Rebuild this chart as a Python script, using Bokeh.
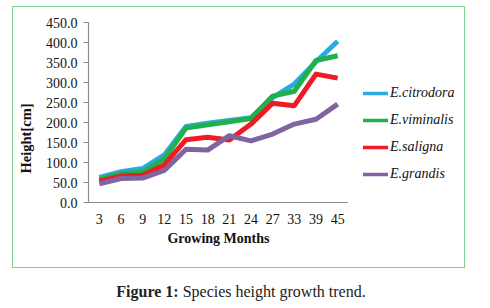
import math
import numpy as np
from bokeh.plotting import figure
from bokeh.models import (FactorRange, Range1d, SingleIntervalTicker, PrintfTickFormatter,
                          Label, Legend, LegendItem, ColumnDataSource, Div, Spacer)
from bokeh.layouts import column, row
from bokeh.embed import file_html
from bokeh.resources import INLINE

months = ["3", "6", "9", "12", "15", "18", "21", "24", "27", "33", "39", "45"]
citrodora = [63, 77, 85, 119, 190, 198, 205, 212, 262, 296, 352, 403]
viminalis = [58, 72, 76, 109, 186, 194, 202, 210, 266, 278, 355, 367]
saligna = [53, 66, 68, 94, 157, 163, 156, 196, 248, 242, 321, 311]
grandis = [47, 60, 61, 80, 133, 131, 167, 154, 171, 196, 208, 246]

series_names = ["E.citrodora", "E.viminalis", "E.saligna", "E.grandis"]
series_values = [citrodora, viminalis, saligna, grandis]
colors = ["#29abe2", "#21b14b", "#ed1c24", "#8064a2"]

FONT = "Liberation Serif"
H = 262
TOP, BOTTOM = 16, 66          # shared by all three plots (frames are aligned in a row)
FH = H - TOP - BOTTOM         # 180 px frame height; frame bottom at canvas y 196


def bare(width):
    f = figure(width=width, height=H, output_backend="svg", toolbar_location=None,
               x_range=Range1d(0, width), y_range=Range1d(0, FH),
               x_axis_location=None, y_axis_location=None,
               min_border_left=0, min_border_right=0,
               min_border_top=TOP, min_border_bottom=BOTTOM)
    f.outline_line_color = None
    f.xgrid.grid_line_color = None
    f.ygrid.grid_line_color = None
    f.background_fill_alpha = 0
    f.border_fill_alpha = 0
    return f


# ---- y-axis title panel (page x 12..40); text reads upward from page y 173
p_t = bare(28)
p_t.add_layout(Label(x=13, y=(TOP + FH) - (173 - 6), text="Height[cm]", angle=math.pi / 2,
                     text_align="left", text_baseline="middle", text_font=FONT,
                     text_font_style="bold", text_font_size="14.5px", text_color="#111111"))

# ---- main chart (page x 40..348)
p = figure(width=308, height=H, output_backend="svg", toolbar_location=None,
           x_range=FactorRange(*months, range_padding=0, factor_padding=0),
           y_range=Range1d(0, 450),
           min_border_left=48, min_border_right=0,
           min_border_top=TOP, min_border_bottom=BOTTOM)
p.outline_line_color = None
p.xgrid.grid_line_color = None
p.ygrid.grid_line_color = None
p.background_fill_alpha = 0
p.border_fill_alpha = 0

p.yaxis.ticker = SingleIntervalTicker(interval=50)
p.yaxis.formatter = PrintfTickFormatter(format="%.1f")
for ax in (p.xaxis[0], p.yaxis[0]):
    ax.axis_line_color = "#8c8c8c"
    ax.axis_line_width = 1.2
    ax.major_label_text_font = FONT
    ax.major_label_text_font_size = "14px"
    ax.major_label_text_color = "#111111"
    ax.minor_tick_line_color = None
p.yaxis.major_tick_line_color = "#8c8c8c"
p.yaxis.major_tick_out = 5
p.yaxis.major_tick_in = 0
p.yaxis.major_label_standoff = 6
p.xaxis.major_tick_line_color = None
p.xaxis.major_tick_out = 0
p.xaxis.major_tick_in = 0
p.xaxis.major_label_standoff = 11
p.xaxis.axis_label = "Growing Months"
p.xaxis.axis_label_text_font = FONT
p.xaxis.axis_label_text_font_style = "bold"
p.xaxis.axis_label_text_font_size = "14px"
p.xaxis.axis_label_text_color = "#111111"
p.xaxis.axis_label_standoff = 4

for name, vals, c in zip(series_names, series_values, colors):
    src = ColumnDataSource(dict(x=months, y=vals))
    p.line("x", "y", source=src, line_color=c, line_width=5, line_join="round")

# ---- legend panel (page x 348..465); legend spans page y 82.5..183.5 from x 363
p_l = bare(117)
items = []
for name, c in zip(series_names, colors):
    r = p_l.line(x=np.array([np.nan]), y=np.array([np.nan]), line_color=c,
                 line_width=3.5, line_cap="round")
    items.append(LegendItem(label=name, renderers=[r]))
legend = Legend(items=items, location=(15, (TOP + FH) - (183.5 - 6)),
                glyph_width=25, glyph_height=20, label_height=20, label_standoff=2,
                spacing=7, padding=0, margin=0,
                border_line_color=None, background_fill_alpha=0,
                label_text_font=FONT, label_text_font_style="italic",
                label_text_font_size="14px", label_text_color="#111111",
                label_text_baseline="middle")
p_l.add_layout(legend)

box = row(p_t, p, p_l, spacing=0,
          styles={"outline": "1.5px solid #7fcf8f", "outline-offset": "-1.5px"})

caption = Div(text="<b>Figure 1:</b> Species height growth trend.", width=482, height=40,
              margin=0,
              styles={"text-align": "center", "font-family": FONT, "font-size": "16px",
                      "color": "#222222", "padding-top": "15px", "line-height": "18px"})

layout = column(Spacer(height=6), row(Spacer(width=12), box, spacing=0), caption, spacing=0)
open("out.html", "w").write(file_html(layout, INLINE))
